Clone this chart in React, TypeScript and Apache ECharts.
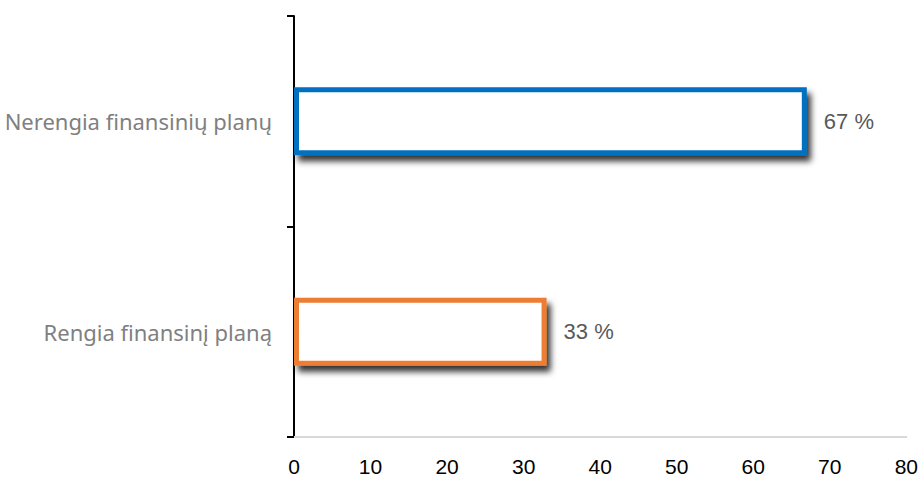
import React, { useEffect, useRef } from "react";
import * as echarts from "echarts";

const categories = ["Rengia finansinį planą", "Nerengia finansinių planų"];
const values = [33, 67];
const barColors = ["#ED7D31", "#0070C0"];
const xTicks = [0, 10, 20, 30, 40, 50, 60, 70, 80];

export default function App() {
  const ref = useRef<HTMLDivElement>(null);
  useEffect(() => {
    const chart = echarts.init(ref.current!, null, { renderer: "svg" });
    chart.setOption({
      animation: false,
      grid: { left: 294, right: 14, top: 16, bottom: 40, containLabel: false },
      xAxis: {
        type: "value",
        min: xTicks[0],
        max: xTicks[xTicks.length - 1],
        interval: 10,
        axisLine: { show: true, lineStyle: { color: "#d9d9d9", width: 2 } },
        axisTick: { show: false },
        splitLine: { show: false },
        axisLabel: { color: "#000", fontSize: 21, margin: 19, fontFamily: "Liberation Sans" },
      },
      yAxis: {
        type: "category",
        data: categories,
        axisLine: { show: true, lineStyle: { color: "#000", width: 2 } },
        axisTick: { show: true, length: 7, lineStyle: { color: "#000", width: 2 } },
        axisLabel: { color: "#808080", fontSize: 22, margin: 22, fontFamily: "Noto Sans" },
      },
      series: [
        {
          type: "bar",
          barWidth: 68,
          data: values.map((v, i) => ({
            value: v,
            itemStyle: {
              color: "#ffffff",
              borderColor: barColors[i],
              borderWidth: 5,
              shadowColor: "rgba(0,0,0,0.8)",
              shadowBlur: 6,
              shadowOffsetX: 4,
              shadowOffsetY: 6,
            },
          })),
          label: {
            show: true,
            position: "right",
            distance: 17,
            formatter: "{c} %",
            color: "#595959",
            fontSize: 22,
            fontFamily: "Liberation Sans",
          },
        },
      ],
    });
    return () => chart.dispose();
  }, []);
  return <div ref={ref} style={{ width: 921, height: 477, position: "absolute", left: 0, top: 0 }} />;
}
